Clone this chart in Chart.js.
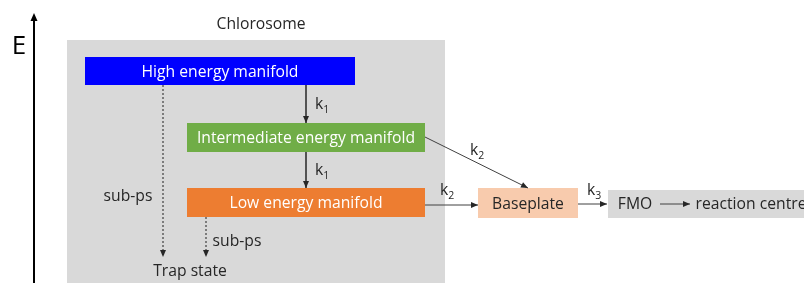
<!DOCTYPE html>
<html><head><meta charset="utf-8">
<script src="https://cdn.jsdelivr.net/npm/chart.js@4"></script>
<style>html,body{margin:0;padding:0;background:#fff;}#wrap{width:804px;height:283px;}</style>
</head><body><div id="wrap"><canvas id="c" width="804" height="283"></canvas></div>
<script>
// Diagram boxes (diagram units = pixels of the 804x283 layout)
const boxLabels = ["", "High energy manifold", "Intermediate energy manifold", "Low energy manifold", "Baseplate", ""];
const boxX0 = [67, 85, 187, 187, 478, 608];
const boxX1 = [445, 355, 425, 425, 578, 810];
const boxY0 = [40, 57, 123, 188, 188, 190];
const boxY1 = [290, 85, 152, 217, 218, 218];
const boxFill = ["#d9d9d9", "#0000ff", "#70ad47", "#ed7d31", "#f8cbad", "#d9d9d9"];
const boxText = ["#fff", "#ffffff", "#ffffff", "#ffffff", "#262626", "#262626"];

// Arrows: [x0,y0] -> [x1,y1]
const arrowX0 = [306, 306, 425, 425, 578, 660, 163, 206];
const arrowY0 = [85, 152, 137, 205, 204, 204, 85, 217];
const arrowX1 = [306, 306, 528, 478, 607, 690, 163, 206];
const arrowY1 = [123, 188, 188, 205, 204, 204, 257, 257];
const arrowDotted = [false, false, false, false, false, false, true, true];

// Free labels
const labelText = ["Chlorosome", "sub-ps", "sub-ps", "Trap state", "FMO", "reaction centre"];
const labelX = [261, 128, 237, 190, 635, 751];
const labelY = [25, 197, 242, 272, 205, 205];

// Rate labels (k with subscript)
const rateSub = ["1", "1", "2", "2", "3"];
const rateX = [315, 315, 470, 440, 587];
const rateY = [105, 171, 151, 191, 191];

const arrowDatasets = arrowX0.map((x0, i) => ({
  type: 'line',
  data: [{x: x0, y: arrowY0[i]}, {x: arrowX1[i], y: arrowY1[i]}],
  borderColor: '#404040',
  borderWidth: arrowDotted[i] ? 1.2 : 1,
  borderDash: arrowDotted[i] ? [2, 2] : [],
  pointRadius: 0,
  showLine: true,
  fill: false,
  order: 1
}));

const FONT = '"Open Sans", Lato, sans-serif';
const FS = '15.7px ';

const diagramPlugin = {
  id: 'diagram',
  beforeDatasetsDraw(chart) {
    const {ctx, scales: {x, y}} = chart;
    ctx.save();
    boxX0.forEach((x0, i) => {
      const px0 = x.getPixelForValue(x0), px1 = x.getPixelForValue(boxX1[i]);
      const py0 = y.getPixelForValue(boxY0[i]), py1 = y.getPixelForValue(boxY1[i]);
      ctx.fillStyle = boxFill[i];
      ctx.fillRect(px0, py0, px1 - px0, py1 - py0);
      if (boxLabels[i]) {
        ctx.fillStyle = boxText[i];
        ctx.font = FS + FONT;
        ctx.textAlign = 'center';
        ctx.textBaseline = 'middle';
        ctx.fillText(boxLabels[i], (px0 + px1) / 2, (py0 + py1) / 2 + 1.5);
      }
    });
    // Energy axis
    const ax = x.getPixelForValue(34);
    ctx.strokeStyle = '#000';
    ctx.lineWidth = 2;
    ctx.beginPath();
    ctx.moveTo(ax, y.getPixelForValue(290));
    ctx.lineTo(ax, y.getPixelForValue(20));
    ctx.stroke();
    ctx.fillStyle = '#000';
    ctx.beginPath();
    ctx.moveTo(ax, y.getPixelForValue(13));
    ctx.lineTo(ax - 3.5, y.getPixelForValue(21));
    ctx.lineTo(ax + 3.5, y.getPixelForValue(21));
    ctx.closePath();
    ctx.fill();
    ctx.font = '26px ' + FONT;
    ctx.textAlign = 'center';
    ctx.textBaseline = 'middle';
    ctx.fillText('E', x.getPixelForValue(19), y.getPixelForValue(47));
    ctx.restore();
  },
  afterDatasetsDraw(chart) {
    const {ctx, scales: {x, y}} = chart;
    ctx.save();
    // arrowheads
    arrowX0.forEach((x0, i) => {
      const px0 = x.getPixelForValue(x0), py0 = y.getPixelForValue(arrowY0[i]);
      const px1 = x.getPixelForValue(arrowX1[i]), py1 = y.getPixelForValue(arrowY1[i]);
      const a = Math.atan2(py1 - py0, px1 - px0);
      const L = 7, W = 3;
      ctx.fillStyle = '#262626';
      ctx.beginPath();
      ctx.moveTo(px1, py1);
      ctx.lineTo(px1 - L * Math.cos(a) + W * Math.sin(a), py1 - L * Math.sin(a) - W * Math.cos(a));
      ctx.lineTo(px1 - L * Math.cos(a) - W * Math.sin(a), py1 - L * Math.sin(a) + W * Math.cos(a));
      ctx.closePath();
      ctx.fill();
    });
    ctx.fillStyle = '#262626';
    ctx.textBaseline = 'middle';
    ctx.font = FS + FONT;
    labelText.forEach((t, i) => {
      ctx.textAlign = 'center';
      ctx.fillText(t, x.getPixelForValue(labelX[i]), y.getPixelForValue(labelY[i]));
    });
    rateSub.forEach((s, i) => {
      const px = x.getPixelForValue(rateX[i]), py = y.getPixelForValue(rateY[i]);
      ctx.textAlign = 'left';
      ctx.font = FS + FONT;
      ctx.fillText('k', px, py);
      const w = ctx.measureText('k').width;
      ctx.font = '10.5px ' + FONT;
      ctx.fillText(s, px + w, py + 5);
    });
    ctx.restore();
  }
};

new Chart(document.getElementById('c'), {
  type: 'scatter',
  data: {datasets: arrowDatasets},
  options: {
    responsive: false,
    animation: false,
    layout: {padding: 0},
    plugins: {legend: {display: false}, tooltip: {enabled: false}},
    scales: {
      x: {type: 'linear', min: 0, max: 804, display: false},
      y: {type: 'linear', min: 0, max: 283, reverse: true, display: false}
    }
  },
  plugins: [diagramPlugin]
});
</script></body></html>
